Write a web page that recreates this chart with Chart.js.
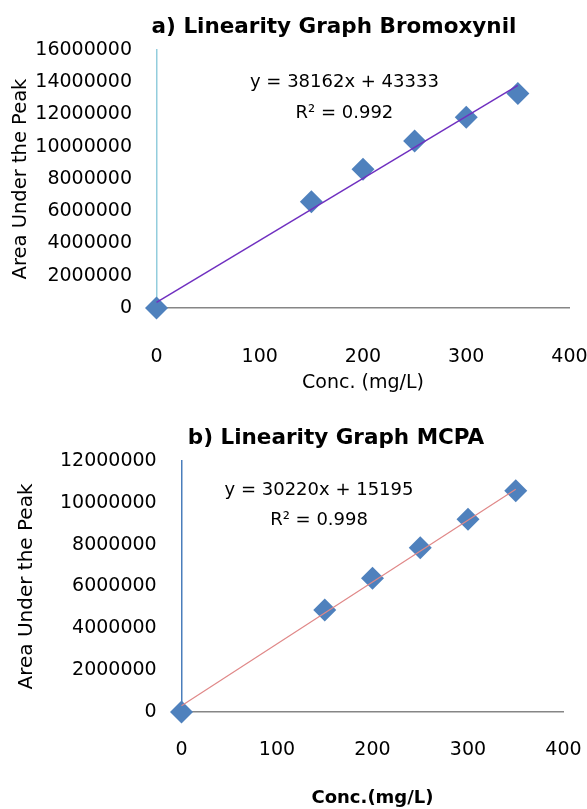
<!DOCTYPE html>
<html>
<head>
<meta charset="utf-8">
<script src="https://cdn.jsdelivr.net/npm/chart.js@4.4.1/dist/chart.umd.min.js"></script>
<style>
  html, body { margin: 0; padding: 0; background: #ffffff; }
  .box { position: absolute; left: 0; width: 587px; }
</style>
</head>
<body>
<div class="box" style="top:0;height:400px"><canvas id="chartA"></canvas></div>
<div class="box" style="top:400px;height:409px"><canvas id="chartB"></canvas></div>
<script>
// ---- data ----
const concentrations = [0, 150, 200, 250, 300, 350];
const bromoxynilArea = [0, 6590000, 8600000, 10360000, 11830000, 13310000];
const mcpaArea = [0, 4880000, 6390000, 7850000, 9210000, 10580000];
// trendline endpoints: [x, y]
const bromoxynilTrend = [[0, 350000], [350, 13800000]];
const mcpaTrend = [[0, 300000], [350, 10650000]];
const xTicks = [0, 100, 200, 300, 400];
const yTicksA = [0, 2000000, 4000000, 6000000, 8000000, 10000000, 12000000, 14000000, 16000000];
const yTicksB = [0, 2000000, 4000000, 6000000, 8000000, 10000000, 12000000];
const titleA = 'a) Linearity Graph Bromoxynil';
const titleB = 'b) Linearity Graph MCPA';
const eqA = ['y = 38162x + 43333', 'R\u00B2 = 0.992'];
const eqB = ['y = 30220x + 15195', 'R\u00B2 = 0.998'];
const eqAnchorA = [182, 14020000];
const eqAnchorB = [144, 10610000];

Chart.defaults.font.family = '"DejaVu Sans", sans-serif';
Chart.defaults.color = '#000';

const annotPlugin = {
  id: 'annot',
  afterDraw(chart, args, o) {
    const {ctx} = chart;
    const xs = chart.scales.x, ys = chart.scales.y;
    ctx.save();
    ctx.fillStyle = '#000';
    ctx.textAlign = 'center';
    ctx.textBaseline = 'middle';
    ctx.font = 'bold ' + o.titleSize + 'px "DejaVu Sans"';
    ctx.fillText(o.title, o.titleX, o.titleY);
    ctx.font = '18px "DejaVu Sans"';
    const px = xs.getPixelForValue(o.anchor[0]);
    const py = ys.getPixelForValue(o.anchor[1]);
    ctx.fillText(o.eq[0], px, py);
    ctx.fillText(o.eq[1], px, py + o.gap);
    ctx.restore();
  }
};

function toPoints(xsArr, ysArr) {
  return xsArr.map((x, i) => ({x: x, y: ysArr[i]}));
}
function trendPoints(t) {
  return t.map(p => ({x: p[0], y: p[1]}));
}

function makeChart(id, cfg) {
  return new Chart(document.getElementById(id), {
    type: 'scatter',
    data: {
      datasets: [
        {
          type: 'line',
          data: trendPoints(cfg.trend),
          borderColor: cfg.trendColor,
          borderWidth: cfg.trendWidth,
          pointRadius: 0,
          fill: false,
          clip: false,
          order: 1
        },
        {
          data: toPoints(concentrations, cfg.values),
          pointStyle: 'rectRot',
          pointRadius: 11.5,
          pointHoverRadius: 11.5,
          backgroundColor: '#4f81bd',
          borderColor: '#4f81bd',
          borderWidth: 0,
          showLine: false,
          clip: false,
          order: 2
        }
      ]
    },
    options: {
      responsive: true,
      maintainAspectRatio: false,
      animation: false,
      events: [],
      layout: { padding: { top: cfg.padTop, right: cfg.padRight, left: 0, bottom: 0 } },
      plugins: {
        legend: { display: false },
        tooltip: { enabled: false },
        title: { display: false },
        annot: {
          title: cfg.title, titleX: cfg.titleX, titleY: cfg.titleY, titleSize: 21.5,
          eq: cfg.eq, anchor: cfg.anchor, gap: cfg.gap
        }
      },
      scales: {
        x: {
          type: 'linear',
          min: 0, max: 400,
          afterBuildTicks: s => { s.ticks = xTicks.map(v => ({value: v})); },
          afterFit: s => { s.height = cfg.xHeight; s.paddingLeft = 0; s.paddingRight = 0; },
          grid: { color: 'rgba(0,0,0,0)', drawTicks: false },
          border: { color: '#868686', width: 1.5 },
          ticks: {
            padding: cfg.xTickPad,
            font: { size: 19 },
            color: '#000',
            maxRotation: 0,
            autoSkip: false,
            callback: v => String(v)
          },
          title: {
            display: true,
            text: cfg.xTitle,
            font: { size: cfg.xTitleSize, weight: cfg.xTitleWeight },
            color: '#000',
            padding: { top: 0, bottom: cfg.xTitlePad }
          }
        },
        y: {
          type: 'linear',
          min: 0, max: cfg.yMax,
          afterBuildTicks: s => { s.ticks = cfg.yTicks.map(v => ({value: v})); },
          afterFit: s => { s.width = cfg.yWidth; s.paddingTop = 0; s.paddingBottom = 0; },
          grid: { color: 'rgba(0,0,0,0)', drawTicks: false },
          border: { color: cfg.yAxisColor, width: 1.5 },
          ticks: {
            padding: cfg.yTickPad,
            font: { size: 19 },
            color: '#000',
            autoSkip: false,
            callback: v => String(v)
          },
          title: {
            display: true,
            text: 'Area Under the Peak',
            font: { size: cfg.yTitleSize },
            color: '#000',
            padding: { top: cfg.yTitlePad, bottom: 0 }
          }
        }
      }
    },
    plugins: [annotPlugin]
  });
}

makeChart('chartA', {
  values: bromoxynilArea,
  trend: bromoxynilTrend,
  trendColor: '#7030c0',
  trendWidth: 1.5,
  yMax: 16000000,
  yTicks: yTicksA,
  yAxisColor: '#93cddd',
  padTop: 50, padRight: 17.5,
  xHeight: 92, yWidth: 156.5,
  xTickPad: 37.6, yTickPad: 24.5,
  xTitle: 'Conc. (mg/L)', xTitleSize: 19, xTitleWeight: 'normal', xTitlePad: 5.6,
  yTitleSize: 19.5, yTitlePad: 9.3,
  title: titleA, titleX: 334, titleY: 27,
  eq: eqA, anchor: eqAnchorA, gap: 31
});

makeChart('chartB', {
  values: mcpaArea,
  trend: mcpaTrend,
  trendColor: '#e08888',
  trendWidth: 1.2,
  yMax: 12000000,
  yTicks: yTicksB,
  yAxisColor: '#4a7ebb',
  padTop: 61, padRight: 23.5,
  xHeight: 97, yWidth: 181.5,
  xTickPad: 26.6, yTickPad: 24.8,
  xTitle: 'Conc.(mg/L)', xTitleSize: 18, xTitleWeight: 'bold', xTitlePad: 0.2,
  yTitleSize: 20, yTitlePad: 15,
  title: titleB, titleX: 336, titleY: 38,
  eq: eqB, anchor: eqAnchorB, gap: 30
});
</script>
</body>
</html>
